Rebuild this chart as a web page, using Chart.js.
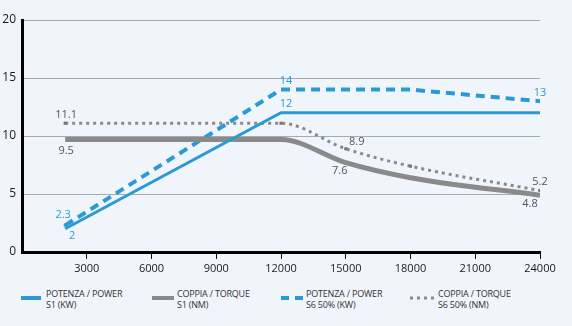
<!DOCTYPE html>
<html>
<head>
<meta charset="utf-8">
<script src="https://cdn.jsdelivr.net/npm/chart.js@4.4.0/dist/chart.umd.min.js"></script>
<style>
  body { margin: 0; background: #f0f5fc; width: 572px; height: 326px; overflow: hidden; font-family: "Open Sans", sans-serif; }
  #wrap { position: absolute; left: 0; top: 0; width: 572px; height: 282px; }
  .leg { position: absolute; top: 289px; font-size: 9px; line-height: 10.5px; color: #333; letter-spacing: -0.2px; }
  .leg svg { position: absolute; left: 0; top: 5px; }
  .leg span { position: absolute; white-space: nowrap; }
</style>
</head>
<body>
<div id="wrap"><canvas id="myChart"></canvas></div>
<div id="legend"></div>
<script>
const xValues = [2000, 12000, 15000, 18000, 24000];
const powerS1 = [2, 12, 12, 12, 12];
const torqueS1 = [9.7, 9.7, 7.7, 6.4, 4.9];
const powerS6 = [2.3, 14, 14, 14, 13];
const torqueS6 = [11.1, 11.1, 8.9, 7.4, 5.3];

const powerS1Labels = ['2', '12', '', '', ''];
const torqueS1Labels = ['9.5', '', '7.6', '', '4.8'];
const powerS6Labels = ['2.3', '14', '', '', '13'];
const torqueS6Labels = ['11.1', '', '8.9', '', '5.2'];

const seriesNames = [
  ['POTENZA / POWER', 'S1 (KW)'],
  ['COPPIA / TORQUE', 'S1 (NM)'],
  ['POTENZA / POWER', 'S6 50% (KW)'],
  ['COPPIA / TORQUE', 'S6 50% (NM)']
];
const yTicks = [0, 5, 10, 15, 20];
const xTickStep = 3000;

const blue = '#2a9ad5';
const grey = '#8a8a8a';

// label offsets from the point, in px
const labelOffsets = [
  [[7, 7], [5, -9], null, null, null],
  [[1, 11], null, [-6, 8], null, [-10, 9]],
  [[-2, -10], [5, -9], null, null, [0, -8]],
  [[1, -8], null, [11, -7], null, [0, -9]]
];
const labelColors = [blue, '#555', blue, '#555'];

const pts = ys => xValues.map((x, i) => ({ x: x, y: ys[i] }));
const ends = c => (c.dataIndex === 0 || c.dataIndex === xValues.length - 1) ? 2 : 0;

const pointLabels = {
  id: 'pointLabels',
  afterDatasetsDraw(chart) {
    const ctx = chart.ctx;
    ctx.save();
    ctx.font = '11px "Open Sans"';
    ctx.textAlign = 'center';
    ctx.textBaseline = 'middle';
    chart.data.datasets.forEach((ds, d) => {
      chart.getDatasetMeta(d).data.forEach((pt, i) => {
        const txt = ds.pointText[i];
        if (!txt) return;
        const off = labelOffsets[d][i];
        ctx.fillStyle = labelColors[d];
        ctx.fillText(txt, pt.x + off[0], pt.y + off[1]);
      });
    });
    ctx.restore();
  }
};

const ctx = document.querySelector('#myChart');
/* eslint-disable no-unused-vars */
const myChart = new Chart(ctx, {
  type: 'line',
  data: {
    datasets: [{
      label: seriesNames[0].join(' '),
      data: pts(powerS1),
      pointText: powerS1Labels,
      borderColor: blue,
      borderWidth: 3,
      pointRadius: 0
    }, {
      label: seriesNames[1].join(' '),
      data: pts(torqueS1),
      pointText: torqueS1Labels,
      borderColor: grey,
      borderWidth: 5,
      pointRadius: 0,
      cubicInterpolationMode: 'monotone'
    }, {
      label: seriesNames[2].join(' '),
      data: pts(powerS6),
      pointText: powerS6Labels,
      borderColor: blue,
      borderWidth: 4,
      borderDash: [9, 6],
      pointRadius: ends,
      pointStyle: 'rect',
      pointBackgroundColor: blue,
      pointBorderWidth: 0
    }, {
      label: seriesNames[3].join(' '),
      data: pts(torqueS6),
      pointText: torqueS6Labels,
      borderColor: grey,
      borderWidth: 3,
      borderDash: [3, 4],
      pointRadius: 2.2,
      pointStyle: 'rect',
      pointBackgroundColor: '#777',
      pointBorderWidth: 0,
      cubicInterpolationMode: 'monotone'
    }]
  },
  options: {
    responsive: true,
    maintainAspectRatio: false,
    animation: false,
    layout: { padding: { top: 20, right: 32, bottom: 0, left: 0 } },
    plugins: { legend: { display: false }, tooltip: { enabled: false } },
    scales: {
      x: {
        type: 'linear',
        min: 0,
        max: 24000,
        afterFit: s => { s.height = 30; },
        border: { color: '#000', width: 3 },
        grid: {
          drawOnChartArea: false,
          tickLength: 7,
          tickColor: c => c.tick && c.tick.value === 0 ? 'rgba(0,0,0,0)' : '#000'
        },
        ticks: {
          stepSize: xTickStep,
          padding: 3,
          color: '#1a1a1a',
          font: { family: 'Open Sans', size: 11 },
          callback: v => v === 0 ? '' : String(v)
        }
      },
      y: {
        min: yTicks[0],
        max: yTicks[yTicks.length - 1],
        afterFit: s => { s.width = 22; },
        afterBuildTicks: s => { s.ticks = yTicks.map(v => ({ value: v })); },
        border: { color: '#000', width: 3 },
        grid: { color: '#aaa', lineWidth: 1, drawTicks: false },
        ticks: {
          padding: 6,
          color: '#1a1a1a',
          font: { family: 'Open Sans', size: 12 }
        }
      }
    }
  },
  plugins: [pointLabels]
});

// legend below the chart
const legendX = [21, 152, 281, 409];
const samples = [
  '<line x1="0" y1="4" x2="20" y2="4" stroke="' + blue + '" stroke-width="4"/>',
  '<line x1="0" y1="4" x2="22" y2="4" stroke="' + grey + '" stroke-width="4"/>',
  '<line x1="0" y1="4" x2="22" y2="4" stroke="' + blue + '" stroke-width="4" stroke-dasharray="8,6"/>',
  '<line x1="1" y1="4" x2="25" y2="4" stroke="' + grey + '" stroke-width="3" stroke-dasharray="3,4"/>'
];
const legend = document.querySelector('#legend');
seriesNames.forEach((name, i) => {
  const d = document.createElement('div');
  d.className = 'leg';
  d.style.left = legendX[i] + 'px';
  d.innerHTML = '<svg width="28" height="8">' + samples[i] + '</svg>' +
    '<span style="left:' + (i === 3 ? 29 : 25) + 'px">' + name[0] + '<br>' + name[1] + '</span>';
  legend.appendChild(d);
});
</script>
</body>
</html>
